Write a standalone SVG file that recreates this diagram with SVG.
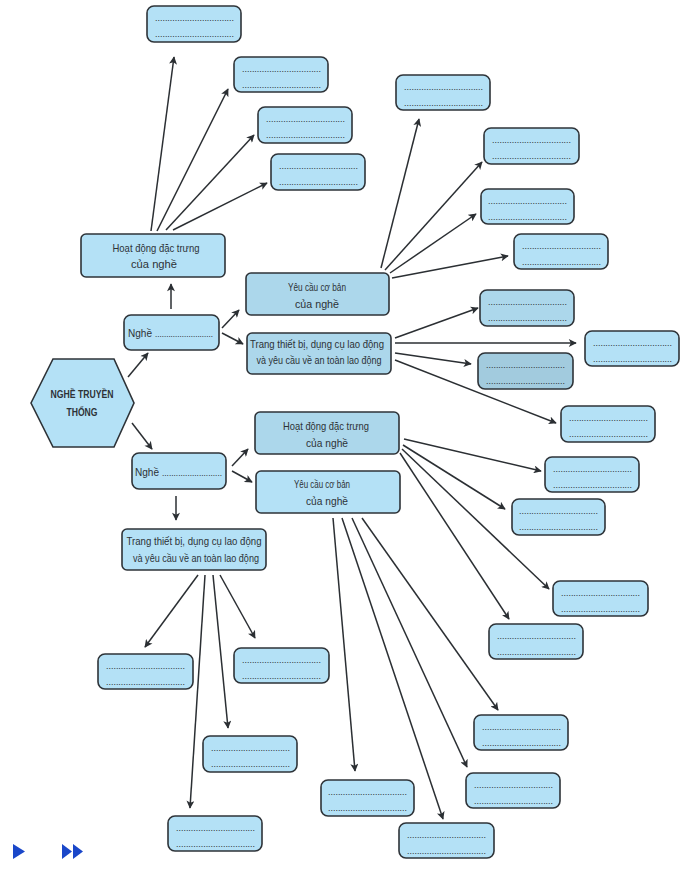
<svg xmlns="http://www.w3.org/2000/svg" width="698" height="869" viewBox="0 0 698 869">
<defs>
<style>
.box{fill:#b4e1f6;stroke:#2e3338;stroke-width:1.6}
.wm{fill:#acd7eb}
.wm2{fill:#a2cbde}
.lbl{font-family:"Liberation Sans",sans-serif;font-size:11.5px;fill:#2d3236;text-anchor:middle}
.hex{font-family:"Liberation Sans",sans-serif;font-size:11px;font-weight:bold;fill:#2d3236;text-anchor:middle}
.dots{font-family:"Liberation Sans",sans-serif;font-size:9px;fill:#2a2e33}
.conn line{stroke:#2b2f33;stroke-width:1.5;marker-end:url(#ah)}
.nav{fill:#1a47c9}
</style>
<marker id="ah" viewBox="0 0 10 10" refX="9" refY="5" markerWidth="9" markerHeight="8" markerUnits="userSpaceOnUse" orient="auto">
<path d="M0,0 L10,5 L0,10 L2.5,5z" fill="#2b2f33"/>
</marker>
</defs>
<rect width="698" height="869" fill="#ffffff"/>

<g class="conn">
<line x1="151" y1="231" x2="174" y2="57"/>
<line x1="157" y1="231" x2="228" y2="89"/>
<line x1="166" y1="230" x2="254" y2="135"/>
<line x1="173" y1="230" x2="267" y2="183"/>
<line x1="171" y1="309" x2="171" y2="284"/>
<line x1="128" y1="377" x2="148" y2="353"/>
<line x1="132" y1="423" x2="152" y2="449"/>
<line x1="222" y1="328" x2="239" y2="310"/>
<line x1="222" y1="333" x2="243" y2="344"/>
<line x1="232" y1="466" x2="248" y2="449"/>
<line x1="232" y1="471" x2="252" y2="482"/>
<line x1="176" y1="496" x2="176" y2="520"/>
<line x1="381" y1="268" x2="419" y2="119"/>
<line x1="385" y1="270" x2="482" y2="162"/>
<line x1="390" y1="273" x2="476" y2="214"/>
<line x1="392" y1="278" x2="508" y2="256"/>
<line x1="395" y1="338" x2="478" y2="308"/>
<line x1="395" y1="343" x2="576" y2="343"/>
<line x1="395" y1="353" x2="471" y2="364"/>
<line x1="395" y1="360" x2="556" y2="423"/>
<line x1="404" y1="439" x2="541" y2="471"/>
<line x1="403" y1="445" x2="505" y2="509"/>
<line x1="402" y1="449" x2="549" y2="589"/>
<line x1="400" y1="453" x2="509" y2="619"/>
<line x1="362" y1="518" x2="498" y2="710"/>
<line x1="352" y1="518" x2="467" y2="767"/>
<line x1="333" y1="518" x2="355" y2="771"/>
<line x1="342" y1="518" x2="443" y2="819"/>
<line x1="198" y1="575" x2="145" y2="647"/>
<line x1="205" y1="575" x2="190" y2="808"/>
<line x1="213" y1="575" x2="228" y2="728"/>
<line x1="220" y1="575" x2="255" y2="638"/>
</g>

<g id="hexagon">
<polygon class="box" points="31,403 53,359 114,359 134,403 114,447 53,447"/>
<text class="hex" x="82" y="398" textLength="63" lengthAdjust="spacingAndGlyphs">NGHỀ TRUYỀN</text>
<text class="hex" x="82" y="416" textLength="31" lengthAdjust="spacingAndGlyphs">THỐNG</text>
</g>

<g id="nghe-top">
<rect class="box" x="124" y="315" width="95" height="35" rx="7"/>
<text class="lbl" x="128" y="337" style="text-anchor:start" textLength="24" lengthAdjust="spacingAndGlyphs">Nghề</text>
<text class="dots" x="155" y="337" textLength="58" lengthAdjust="spacingAndGlyphs">..........................</text>
</g>
<g id="nghe-bottom">
<rect class="box" x="132" y="453" width="94" height="36" rx="7"/>
<text class="lbl" x="135" y="476" style="text-anchor:start" textLength="24" lengthAdjust="spacingAndGlyphs">Nghề</text>
<text class="dots" x="162" y="476" textLength="60" lengthAdjust="spacingAndGlyphs">..........................</text>
</g>

<g id="hoatdong-top">
<rect class="box" x="81" y="234" width="144" height="43" rx="5"/>
<text class="lbl" x="156" y="252" textLength="87" lengthAdjust="spacingAndGlyphs">Hoạt động đặc trưng</text>
<text class="lbl" x="154" y="268" textLength="46" lengthAdjust="spacingAndGlyphs">của nghề</text>
</g>
<g id="yeucau-top">
<rect class="box wm" x="246" y="273" width="143" height="42" rx="5"/>
<text class="lbl" x="317" y="291" textLength="58" lengthAdjust="spacingAndGlyphs">Yêu cầu cơ bản</text>
<text class="lbl" x="317" y="308" textLength="44" lengthAdjust="spacingAndGlyphs">của nghề</text>
</g>
<g id="trang-top">
<rect class="box wm" x="247" y="333" width="144" height="41" rx="5"/>
<text class="lbl" x="317" y="348" textLength="134" lengthAdjust="spacingAndGlyphs">Trang thiết bị, dụng cụ lao động</text>
<text class="lbl" x="319" y="364" textLength="125" lengthAdjust="spacingAndGlyphs">và yêu cầu về an toàn lao động</text>
</g>
<g id="hoatdong-bottom">
<rect class="box wm" x="255" y="412" width="144" height="42" rx="5"/>
<text class="lbl" x="326" y="430" textLength="86" lengthAdjust="spacingAndGlyphs">Hoạt động đặc trưng</text>
<text class="lbl" x="327" y="447" textLength="42" lengthAdjust="spacingAndGlyphs">của nghề</text>
</g>
<g id="yeucau-bottom">
<rect class="box" x="256" y="471" width="144" height="42" rx="5"/>
<text class="lbl" x="322" y="488" textLength="56" lengthAdjust="spacingAndGlyphs">Yêu cầu cơ bản</text>
<text class="lbl" x="327" y="505" textLength="42" lengthAdjust="spacingAndGlyphs">của nghề</text>
</g>
<g id="trang-bottom">
<rect class="box" x="122" y="529" width="144" height="41" rx="5"/>
<text class="lbl" x="194" y="545" textLength="135" lengthAdjust="spacingAndGlyphs">Trang thiết bị, dụng cụ lao động</text>
<text class="lbl" x="196" y="562" textLength="126" lengthAdjust="spacingAndGlyphs">và yêu cầu về an toàn lao động</text>
</g>

<g id="a1"><rect class="box" x="147" y="6" width="94" height="36" rx="7"/><text class="dots" x="155" y="21" textLength="79" lengthAdjust="spacingAndGlyphs">................................</text><text class="dots" x="155" y="37" textLength="79" lengthAdjust="spacingAndGlyphs">................................</text></g>
<g id="a2"><rect class="box" x="234" y="57" width="94" height="35" rx="7"/><text class="dots" x="242" y="72" textLength="79" lengthAdjust="spacingAndGlyphs">................................</text><text class="dots" x="242" y="88" textLength="79" lengthAdjust="spacingAndGlyphs">................................</text></g>
<g id="a3"><rect class="box" x="258" y="107" width="94" height="36" rx="7"/><text class="dots" x="266" y="122" textLength="79" lengthAdjust="spacingAndGlyphs">................................</text><text class="dots" x="266" y="138" textLength="79" lengthAdjust="spacingAndGlyphs">................................</text></g>
<g id="a4"><rect class="box" x="271" y="154" width="94" height="36" rx="7"/><text class="dots" x="279" y="169" textLength="79" lengthAdjust="spacingAndGlyphs">................................</text><text class="dots" x="279" y="185" textLength="79" lengthAdjust="spacingAndGlyphs">................................</text></g>

<g id="b1"><rect class="box" x="396" y="75" width="94" height="35" rx="7"/><text class="dots" x="404" y="90" textLength="79" lengthAdjust="spacingAndGlyphs">................................</text><text class="dots" x="404" y="106" textLength="79" lengthAdjust="spacingAndGlyphs">................................</text></g>
<g id="b2"><rect class="box" x="484" y="128" width="95" height="36" rx="7"/><text class="dots" x="492" y="143" textLength="79" lengthAdjust="spacingAndGlyphs">................................</text><text class="dots" x="492" y="159" textLength="79" lengthAdjust="spacingAndGlyphs">................................</text></g>
<g id="b3"><rect class="box" x="481" y="189" width="93" height="35" rx="7"/><text class="dots" x="488" y="204" textLength="79" lengthAdjust="spacingAndGlyphs">................................</text><text class="dots" x="488" y="220" textLength="79" lengthAdjust="spacingAndGlyphs">................................</text></g>
<g id="b4"><rect class="box" x="514" y="234" width="94" height="35" rx="7"/><text class="dots" x="522" y="249" textLength="79" lengthAdjust="spacingAndGlyphs">................................</text><text class="dots" x="522" y="265" textLength="79" lengthAdjust="spacingAndGlyphs">................................</text></g>
<g id="b5"><rect class="box wm" x="480" y="290" width="94" height="36" rx="7"/><text class="dots" x="488" y="305" textLength="79" lengthAdjust="spacingAndGlyphs">................................</text><text class="dots" x="488" y="321" textLength="79" lengthAdjust="spacingAndGlyphs">................................</text></g>
<g id="b6"><rect class="box" x="585" y="331" width="94" height="35" rx="7"/><text class="dots" x="593" y="346" textLength="79" lengthAdjust="spacingAndGlyphs">................................</text><text class="dots" x="593" y="362" textLength="79" lengthAdjust="spacingAndGlyphs">................................</text></g>
<g id="b7"><rect class="box wm2" x="478" y="353" width="95" height="36" rx="7"/><text class="dots" x="486" y="368" textLength="79" lengthAdjust="spacingAndGlyphs">................................</text><text class="dots" x="486" y="384" textLength="79" lengthAdjust="spacingAndGlyphs">................................</text></g>
<g id="b8"><rect class="box" x="561" y="406" width="94" height="36" rx="7"/><text class="dots" x="569" y="421" textLength="79" lengthAdjust="spacingAndGlyphs">................................</text><text class="dots" x="569" y="437" textLength="79" lengthAdjust="spacingAndGlyphs">................................</text></g>

<g id="c1"><rect class="box" x="545" y="457" width="94" height="35" rx="7"/><text class="dots" x="553" y="472" textLength="79" lengthAdjust="spacingAndGlyphs">................................</text><text class="dots" x="553" y="488" textLength="79" lengthAdjust="spacingAndGlyphs">................................</text></g>
<g id="c2"><rect class="box" x="512" y="499" width="93" height="36" rx="7"/><text class="dots" x="519" y="514" textLength="79" lengthAdjust="spacingAndGlyphs">................................</text><text class="dots" x="519" y="530" textLength="79" lengthAdjust="spacingAndGlyphs">................................</text></g>
<g id="c3"><rect class="box" x="553" y="581" width="95" height="35" rx="7"/><text class="dots" x="561" y="596" textLength="79" lengthAdjust="spacingAndGlyphs">................................</text><text class="dots" x="561" y="612" textLength="79" lengthAdjust="spacingAndGlyphs">................................</text></g>
<g id="c4"><rect class="box" x="489" y="624" width="94" height="35" rx="7"/><text class="dots" x="497" y="639" textLength="79" lengthAdjust="spacingAndGlyphs">................................</text><text class="dots" x="497" y="655" textLength="79" lengthAdjust="spacingAndGlyphs">................................</text></g>

<g id="d1"><rect class="box" x="474" y="715" width="94" height="35" rx="7"/><text class="dots" x="482" y="730" textLength="79" lengthAdjust="spacingAndGlyphs">................................</text><text class="dots" x="482" y="746" textLength="79" lengthAdjust="spacingAndGlyphs">................................</text></g>
<g id="d2"><rect class="box" x="466" y="773" width="94" height="35" rx="7"/><text class="dots" x="474" y="788" textLength="79" lengthAdjust="spacingAndGlyphs">................................</text><text class="dots" x="474" y="804" textLength="79" lengthAdjust="spacingAndGlyphs">................................</text></g>
<g id="d3"><rect class="box" x="321" y="780" width="93" height="36" rx="7"/><text class="dots" x="328" y="795" textLength="79" lengthAdjust="spacingAndGlyphs">................................</text><text class="dots" x="328" y="811" textLength="79" lengthAdjust="spacingAndGlyphs">................................</text></g>
<g id="d4"><rect class="box" x="399" y="823" width="95" height="35" rx="7"/><text class="dots" x="407" y="838" textLength="79" lengthAdjust="spacingAndGlyphs">................................</text><text class="dots" x="407" y="854" textLength="79" lengthAdjust="spacingAndGlyphs">................................</text></g>

<g id="e1"><rect class="box" x="98" y="654" width="95" height="35" rx="7"/><text class="dots" x="106" y="669" textLength="79" lengthAdjust="spacingAndGlyphs">................................</text><text class="dots" x="106" y="685" textLength="79" lengthAdjust="spacingAndGlyphs">................................</text></g>
<g id="e2"><rect class="box" x="234" y="648" width="95" height="35" rx="7"/><text class="dots" x="242" y="663" textLength="79" lengthAdjust="spacingAndGlyphs">................................</text><text class="dots" x="242" y="679" textLength="79" lengthAdjust="spacingAndGlyphs">................................</text></g>
<g id="e3"><rect class="box" x="203" y="736" width="94" height="36" rx="7"/><text class="dots" x="211" y="751" textLength="79" lengthAdjust="spacingAndGlyphs">................................</text><text class="dots" x="211" y="767" textLength="79" lengthAdjust="spacingAndGlyphs">................................</text></g>
<g id="e4"><rect class="box" x="168" y="816" width="94" height="35" rx="7"/><text class="dots" x="176" y="831" textLength="79" lengthAdjust="spacingAndGlyphs">................................</text><text class="dots" x="176" y="847" textLength="79" lengthAdjust="spacingAndGlyphs">................................</text></g>

<g id="nav">
<polygon class="nav" points="13,844 25,851.5 13,859"/>
<polygon class="nav" points="62,844 72,851.5 62,859"/>
<polygon class="nav" points="73,844 83,851.5 73,859"/>
</g>
</svg>
